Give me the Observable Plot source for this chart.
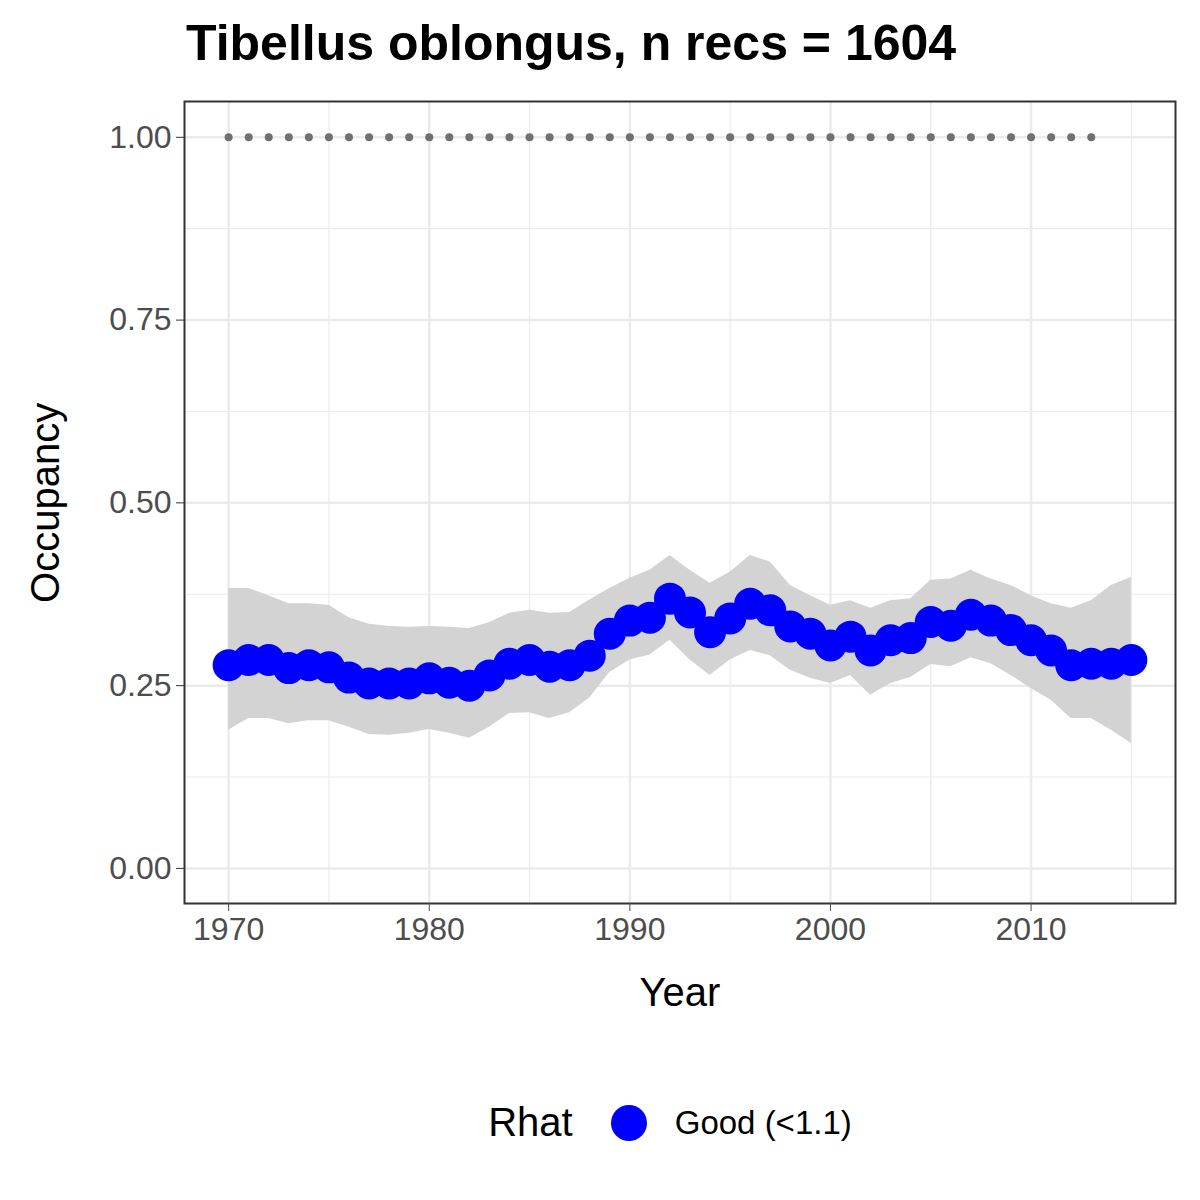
<!DOCTYPE html>
<html><head><meta charset="utf-8">
<script src="https://cdn.jsdelivr.net/npm/d3@7"></script>
<script src="https://cdn.jsdelivr.net/npm/@observablehq/plot@0.6"></script>
<style>
body{margin:0;background:#fff;font-family:Arial,"Liberation Sans",sans-serif;}
#title{height:90px;box-sizing:border-box;padding:14px 0 0 186px;font-size:50px;font-weight:bold;}
#legend{display:flex;align-items:center;justify-content:center;margin-top:60px;padding-left:140px;}
</style></head><body>
<div id="title">Tibellus oblongus, n recs = 1604</div>
<div id="chart"></div>
<div id="legend">
  <span style="font-size:40px;margin-right:36px">Rhat</span>
  <svg width="40" height="40"><circle cx="20" cy="20" r="18" fill="#0000ff"/></svg>
  <span style="font-size:33px;margin-left:26px">Good (&lt;1.1)</span>
</div>
<script>
const years = d3.range(1970, 2016)
const mean = [0.278,0.285,0.285,0.274,0.278,0.275,0.261,0.253,0.253,0.253,0.26,0.254,0.25,0.264,0.28,0.285,0.276,0.278,0.291,0.321,
  0.339,0.343,0.369,0.35,0.323,0.342,0.362,0.353,0.331,0.321,0.305,0.317,0.298,0.312,0.315,0.337,0.332,0.347,0.339,0.326,
  0.312,0.298,0.278,0.28,0.28,0.285]
const upper = [0.383,0.383,0.373,0.362,0.362,0.36,0.343,0.334,0.331,0.33,0.331,0.33,0.328,0.336,0.349,0.353,0.349,0.35,0.367,0.383,
  0.397,0.408,0.428,0.408,0.39,0.405,0.428,0.419,0.387,0.373,0.36,0.366,0.356,0.366,0.369,0.394,0.396,0.408,0.396,0.387,
  0.373,0.362,0.356,0.366,0.387,0.398]
const lower = [0.189,0.205,0.205,0.198,0.202,0.202,0.193,0.183,0.182,0.185,0.19,0.185,0.178,0.193,0.212,0.213,0.205,0.213,0.233,0.268,
  0.285,0.292,0.312,0.285,0.264,0.285,0.298,0.291,0.271,0.26,0.253,0.264,0.237,0.253,0.261,0.279,0.276,0.288,0.28,0.264,
  0.246,0.23,0.205,0.205,0.189,0.171]
const dotYears = d3.range(1970, 2014)

const data = years.map((y, i) => ({year: y, mean: mean[i], lo: lower[i], hi: upper[i]}))

let chart = Plot.plot({
  width: 1200,
  height: 950,
  marginLeft: 184,
  marginRight: 25,
  marginTop: 11,
  marginBottom: 137,
  style: {fontFamily: "Arial, 'Liberation Sans', sans-serif", background: "white", overflow: "visible"},
  x: {domain: [1967.8, 2017.2]},
  y: {domain: [-0.048, 1.049]},
  marks: [
    Plot.ruleY([0.125, 0.375, 0.625, 0.875], {stroke: "#ebebeb", strokeWidth: 1.2}),
    Plot.ruleX([1975, 1985, 1995, 2005, 2015], {stroke: "#ebebeb", strokeWidth: 1.2}),
    Plot.ruleY([0, 0.25, 0.5, 0.75, 1], {stroke: "#ebebeb", strokeWidth: 2.5}),
    Plot.ruleX([1970, 1980, 1990, 2000, 2010], {stroke: "#ebebeb", strokeWidth: 2.5}),
    Plot.areaY(data, {x: "year", y1: "lo", y2: "hi", fill: "#d3d3d3"}),
    Plot.dot(dotYears, {x: d => d, y: 1, r: 4, fill: "#707070"}),
    Plot.dot(data, {x: "year", y: "mean", r: 16, fill: "#0000ff"}),
    Plot.frame({stroke: "#333", strokeWidth: 2}),
    Plot.axisY({ticks: [0, 0.25, 0.5, 0.75, 1], tickFormat: ".2f", fontSize: 32, tickSize: 8, tickPadding: 5, label: null, color: "#4d4d4d", stroke: "#333"}),
    Plot.axisX({ticks: [1970, 1980, 1990, 2000, 2010], tickFormat: "d", fontSize: 32, tickSize: 8, tickPadding: 6, label: null, color: "#4d4d4d"}),
    Plot.text(["Year"], {frameAnchor: "bottom", dy: 102, fontSize: 40, fill: "black"}),
    Plot.text(["Occupancy"], {x: 1960.9, y: 0.5, rotate: -90, fontSize: 40, fill: "black", clip: false})
  ]
})
d3.select('#chart').append(() => chart)
</script>
</body></html>
